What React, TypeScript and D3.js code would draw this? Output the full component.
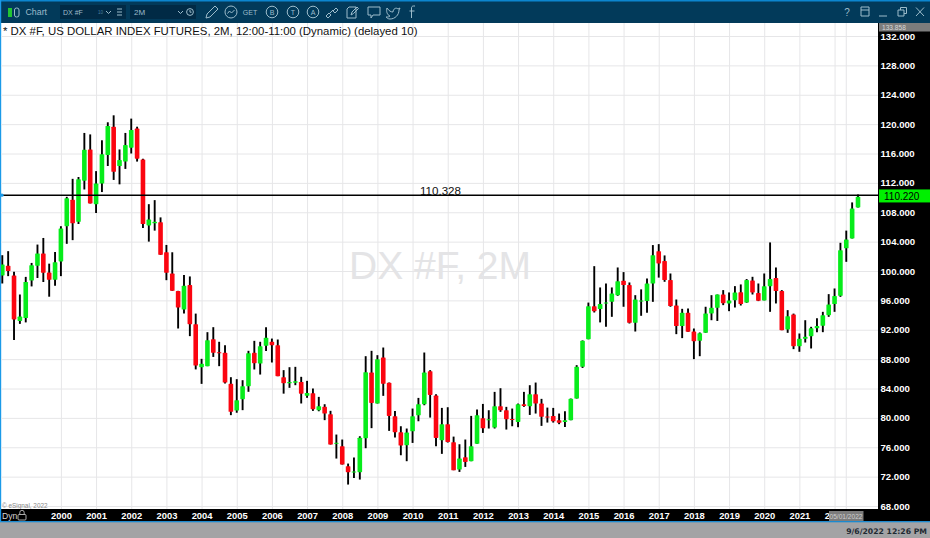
import React, { useEffect, useRef } from 'react';
import * as d3 from 'd3';

// two-month bars, first one sits 10 bars before Jan 2000
const firstBarOffset = 10;

const opens = [
  99.4, 100.7, 99.4, 93.2, 93.6, 98.7, 100.7, 102.4, 99.8, 98.8,
  101.3, 106.1, 109.7, 106.7, 112.3, 116.55, 109.1, 111.9, 115.8, 119.65,
  114.3, 114.9, 116.8, 119.4, 115.2, 106.2, 106.5, 106.65, 102.55, 99.65,
  97.26, 94.76, 98.08, 92.76, 86.9, 87.04, 90.72, 88.95, 88.86, 84.63,
  81, 82.55, 84.32, 88.86, 87.4, 89.81, 90.36, 89.9, 85.54, 84.73,
  84.8, 84.9, 83, 83.36, 81.05, 81.5, 80.5, 76.5, 76.14, 73.42,
  72.6, 72.6, 77.23, 86.17, 81.95, 88.22, 84.77, 80.23, 78.05, 76.28,
  78.18, 80.36, 81.86, 86.36, 83.04, 76.96, 79.14, 76.68, 72.96, 74.64,
  74.1, 76.46, 79.95, 79.7, 78.68, 81.59, 81.04, 79.86, 79.45, 81.86,
  81.59, 83.22, 81.95, 80.18, 80.27, 79.68, 79.45, 79.68, 82.63, 86.95,
  90.72, 95.2, 94.81, 95.6, 95.8, 96.71, 98.67, 98.08, 92.95, 95.9,
  95.9, 98.3, 102.7, 101.35, 98.76, 95.3, 92.5, 94.3, 91.76, 90.5,
  91.58, 94.22, 94.99, 96.8, 95.58, 96.03, 97.12, 95.71, 98.71, 97,
  96, 97.94, 99.03, 97.26, 92.04, 94.08, 89.76, 90.76, 91.13, 92.2,
  92.53, 93.99, 95.49, 96.62, 103.1, 104.43, 108.66,
];

const highs = [
  102.15, 102.7, 99.9, 96.8, 99.2, 101.1, 103.6, 104.5, 101, 102.6,
  106.1, 110.1, 112.55, 112.8, 118.8, 118.6, 113.6, 117.8, 120.25, 121.2,
  116.55, 118.8, 120.75, 119.65, 115.3, 109.1, 109.65, 107.3, 103.55, 102.55,
  97.3, 99.44, 99.26, 94.2, 88.04, 91.67, 92.35, 90.36, 89.9, 85.54,
  85.27, 85.13, 89.13, 90.49, 90.36, 92.35, 90.8, 90.67, 86.5, 86.9,
  86.95, 85.59, 85.04, 84, 82.86, 81.86, 80.96, 77.73, 77.05, 73.78,
  74.6, 77.5, 88.4, 89.13, 88.54, 89.58, 84.81, 80.95, 78.86, 78.55,
  81.27, 82.72, 88.9, 86.5, 83.22, 81.36, 81.45, 77.45, 76.41, 77.05,
  80.27, 81.13, 81.9, 81.04, 83.54, 84.04, 81.5, 81.27, 81.95, 83.54,
  84.45, 84.81, 82.59, 81.4, 81.36, 80.59, 80.9, 82.63, 87.18, 90.55,
  95.7, 100.66, 97.76, 98.3, 97.76, 100.48, 99.85, 98.44, 96.71, 97.5,
  98.98, 103.53, 103.66, 102.12, 99.66, 96.12, 94.85, 94.9, 92.17, 91.63,
  95.13, 96.71, 96.8, 97.4, 97.08, 97.94, 98.17, 98.9, 99.21, 98.3,
  99.66, 103.89, 100.48, 97.4, 94.67, 94.2, 91.49, 93.3, 92.4, 93.58,
  94.44, 96.85, 97.62, 103.84, 105.5, 109.34, 110.43,
];

const lows = [
  98.3, 99.3, 90.6, 92.8, 93, 97.9, 99.05, 98.5, 96.5, 98,
  99.3, 103.7, 104.2, 106.4, 111.1, 109.2, 107.9, 110.75, 114.3, 112.4,
  111.8, 113.9, 116, 114.9, 105.85, 104, 105.5, 102.2, 98.75, 97.3,
  92.17, 94.2, 91.13, 86.6, 84.63, 87.04, 88.3, 87.04, 84.68, 80.37,
  80.7, 81.05, 83.55, 86.59, 85.9, 89.1, 87.54, 85.68, 83.3, 84.09,
  84.45, 81.96, 82.73, 80.95, 80.9, 79.69, 76.37, 74.46, 73.64, 70.92,
  71.8, 71.6, 75.87, 78.6, 81.95, 83, 78.23, 77.32, 74.91, 74.1,
  76.59, 79.54, 81.72, 80.04, 76.14, 75.1, 76.64, 72.87, 72.64, 73.32,
  74.1, 76.46, 77.95, 78.55, 78.55, 80.82, 78.41, 78.86, 78.73, 81.5,
  80.4, 80.59, 78.91, 79.36, 79.36, 79.14, 78.77, 79.68, 82.63, 86.8,
  90.7, 94.35, 93, 92.4, 93.76, 96.62, 95.13, 92.85, 91.76, 93.9,
  94.3, 95.8, 99.1, 98.53, 95.13, 91.4, 90.86, 91.72, 88, 88.4,
  91.58, 93.3, 93.2, 95.35, 94.53, 95.03, 95.3, 95.67, 96.8, 95.9,
  96, 94.44, 95.58, 91.94, 91.58, 89.36, 89, 90.26, 89.45, 91.67,
  91.67, 93.76, 94.44, 96.48, 101.25, 104.43, 108.66,
];

const closes = [
  100.9, 100, 93.4, 93.8, 98.5, 100.8, 102.4, 99.75, 98.8, 101.2,
  105.8, 109.9, 106.5, 112.5, 116.5, 109.2, 111.9, 115.9, 119.75, 113.5,
  115.1, 117.15, 119.2, 115.3, 106.4, 107, 106.7, 102.2, 99.75, 97.3,
  95.03, 97.98, 92.76, 87.13, 87.36, 90.58, 88.86, 88.85, 84.82, 80.82,
  82.4, 84.32, 88.81, 87.45, 89.77, 90.9, 89.9, 85.68, 84.73, 84.87,
  85, 83.3, 83.4, 81.18, 81.6, 80.59, 76.37, 76.6, 73.64, 72.6,
  72.7, 77.3, 86.22, 82.04, 87.99, 84.63, 80.27, 78.05, 76.23, 78,
  80.23, 81.86, 86.17, 83.13, 77.27, 79.14, 76.73, 72.87, 74.46, 74,
  76.14, 80.36, 78.59, 79.8, 81.59, 81.04, 79.82, 79.78, 81.86, 81.63,
  83.22, 81.95, 80.14, 80.04, 79.54, 79.32, 79.68, 82.59, 86.95, 90.49,
  95.2, 94.53, 95.5, 95.7, 96.94, 98.62, 98.08, 92.95, 96.12, 96,
  98.3, 102.16, 101.03, 98.76, 95.22, 92.5, 94.3, 91.72, 90.45, 91.54,
  94.22, 94.99, 96.8, 95.62, 95.99, 97.08, 95.49, 98.76, 97.08, 95.94,
  97.94, 98.9, 97.26, 91.94, 93.85, 89.76, 90.76, 91.03, 92.2, 92.5,
  93.99, 95.44, 96.58, 102.84, 104.29, 108.52, 110.1,
];

const years = d3.range(2000, 2023);
const priceTicks = d3.range(68, 133, 4);
const horizontalLevel = 110.328;
const lastPrice = 110.22;
const topPrice = '133.858';
const cursorBar = 134 + firstBarOffset;

const FONT = '"Liberation Sans", Arial, sans-serif';

export default function App() {
  const ref = useRef<SVGSVGElement>(null);

  useEffect(() => {
    if (!ref.current) return;
    document.body.style.margin = '0';
    const svg = d3.select(ref.current);
    svg.selectAll('*').remove();

    const W = 930, H = 538;
    const chartL = 1, chartR = 878, chartT = 23, chartB = 509;

    const x = d3.scaleLinear().domain([0, opens.length - 1]).range([2.3, 858]);
    const y = d3.scaleLinear().domain([68, 132]).range([506, 36]);
    const yearX = (yr: number) => x((yr - 2000) * 6 + firstBarOffset);

    // backgrounds
    svg.append('rect').attr('width', W).attr('height', H).attr('fill', '#a3a3a5');
    svg.append('rect').attr('width', W).attr('height', 23).attr('fill', '#023a5a');
    svg.append('rect').attr('width', W).attr('height', 1.5).attr('fill', '#0c86cf');
    svg.append('rect').attr('y', chartT).attr('width', W).attr('height', 499).attr('fill', '#000');
    svg.append('rect').attr('x', chartL).attr('y', chartT).attr('width', chartR - chartL).attr('height', chartB - chartT).attr('fill', '#fff');
    svg.append('rect').attr('y', 521).attr('width', W).attr('height', 1.3).attr('fill', '#1b8ad0');
    svg.append('rect').attr('y', 0).attr('width', 1.2).attr('height', 522).attr('fill', '#1b9ae8');

    svg.append('defs').append('clipPath').attr('id', 'plot-clip')
      .append('rect').attr('x', chartL).attr('y', chartT).attr('width', chartR - chartL).attr('height', chartB - chartT);

    const plot = svg.append('g').attr('clip-path', 'url(#plot-clip)');

    // grid
    const hGrid = plot.append('g')
      .attr('transform', `translate(${chartL},0)`)
      .call(d3.axisRight(y).tickValues(priceTicks).tickSize(chartR - chartL).tickFormat(() => ''));
    hGrid.select('.domain').remove();
    hGrid.selectAll('.tick line').attr('stroke', '#e6e6e8').attr('stroke-width', 1);

    const xTickScale = d3.scaleLinear().domain([2000, 2022]).range([yearX(2000), yearX(2022)]);
    const vGrid = plot.append('g')
      .attr('transform', `translate(0,${chartT})`)
      .call(d3.axisBottom(xTickScale).tickValues(years).tickSize(chartB - chartT).tickFormat(() => ''));
    vGrid.select('.domain').remove();
    vGrid.selectAll('.tick line').attr('stroke', '#e6e6e8').attr('stroke-width', 1);

    plot.append('line')
      .attr('x1', x(cursorBar)).attr('x2', x(cursorBar))
      .attr('y1', chartT).attr('y2', chartB)
      .attr('stroke', '#e6e6e8');

    // watermark
    plot.append('text')
      .attr('x', 440).attr('y', 279)
      .attr('text-anchor', 'middle')
      .attr('font-family', FONT).attr('font-size', 39)
      .attr('fill', '#e4e4e6')
      .text('DX #F, 2M');

    // candles
    const bars = plot.append('g').selectAll('g')
      .data(opens.map((open, i) => ({ i, open, high: highs[i], low: lows[i], close: closes[i] })))
      .join('g');

    bars.append('line')
      .attr('x1', d => x(d.i)).attr('x2', d => x(d.i))
      .attr('y1', d => y(d.high)).attr('y2', d => y(d.low))
      .attr('stroke', '#000').attr('stroke-width', 1.9);

    bars.append('rect')
      .attr('x', d => x(d.i) - 2.3)
      .attr('width', 4.6)
      .attr('y', d => y(Math.max(d.open, d.close)))
      .attr('height', d => Math.max(1, Math.abs(y(d.open) - y(d.close))))
      .attr('rx', 0.6)
      .attr('fill', d => d.close >= d.open ? '#07ec1b' : '#fb0510');

    // horizontal line tool
    plot.append('line')
      .attr('x1', chartL).attr('x2', chartR)
      .attr('y1', y(horizontalLevel)).attr('y2', y(horizontalLevel))
      .attr('stroke', '#000').attr('stroke-width', 1.5);
    plot.append('circle').attr('cx', 2).attr('cy', y(horizontalLevel)).attr('r', 1.6).attr('fill', '#1b9ae8');

    plot.append('text')
      .attr('x', 440.5).attr('y', 195)
      .attr('text-anchor', 'middle')
      .attr('font-family', FONT).attr('font-size', 11.6)
      .attr('fill', '#111')
      .text(horizontalLevel.toFixed(3));

    // title
    plot.append('text')
      .attr('x', 3).attr('y', 35)
      .attr('font-family', FONT).attr('font-size', 11.4)
      .attr('fill', '#111')
      .text('* DX #F, US DOLLAR INDEX FUTURES, 2M, 12:00-11:00 (Dynamic) (delayed 10)');

    plot.append('text')
      .attr('x', 2).attr('y', 507.5)
      .attr('font-family', FONT).attr('font-size', 6.4)
      .attr('fill', '#8a8a8a')
      .text('© eSignal, 2022');

    // price axis
    const priceAxis = svg.append('g')
      .attr('transform', `translate(${chartR},0)`)
      .call(d3.axisRight(y).tickValues(priceTicks).tickSize(0).tickPadding(2.5).tickFormat(d3.format('.3f') as any));
    priceAxis.select('.domain').remove();
    priceAxis.selectAll('text')
      .attr('fill', '#fff')
      .attr('font-family', FONT)
      .attr('font-size', 9.6)
      .attr('font-weight', 700);

    svg.append('rect').attr('x', 879).attr('y', 23).attr('width', 51).attr('height', 8.5).attr('fill', '#7c7c7c');
    svg.append('text')
      .attr('x', 882).attr('y', 29.7)
      .attr('font-family', FONT).attr('font-size', 6.6).attr('fill', '#d8d8d8')
      .text(topPrice);

    svg.append('rect').attr('x', 879).attr('y', y(lastPrice) - 6.5).attr('width', 51).attr('height', 13).attr('fill', '#00f000');
    svg.append('text')
      .attr('x', 884).attr('y', y(lastPrice) + 3.6)
      .attr('font-family', FONT).attr('font-size', 10).attr('font-weight', 400).attr('fill', '#000')
      .text(lastPrice.toFixed(3));

    // time axis
    const timeAxis = svg.append('g')
      .attr('transform', 'translate(0,510)')
      .call(d3.axisBottom(xTickScale).tickValues(years).tickSize(0).tickPadding(2).tickFormat(d3.format('d') as any));
    timeAxis.select('.domain').remove();
    timeAxis.selectAll('text')
      .attr('fill', '#fff')
      .attr('font-family', FONT)
      .attr('font-size', 9.4)
      .attr('font-weight', 700);

    svg.append('rect').attr('x', 829).attr('y', 511).attr('width', 34.5).attr('height', 10).attr('fill', '#7c7c7c');
    svg.append('text')
      .attr('x', 846).attr('y', 518.6)
      .attr('text-anchor', 'middle')
      .attr('font-family', FONT).attr('font-size', 6.6).attr('fill', '#cfcfcf')
      .text('05/01/2022');

    svg.append('text')
      .attr('x', 2).attr('y', 519)
      .attr('font-family', FONT).attr('font-size', 8.6).attr('fill', '#d5d5d5')
      .text('Dyn');
    const lock = svg.append('g').attr('fill', 'none').attr('stroke', '#bdbdbd').attr('stroke-width', 0.9);
    lock.append('rect').attr('x', 18).attr('y', 514.5).attr('width', 8).attr('height', 5.5).attr('rx', 1);
    lock.append('path').attr('d', 'M19.8 514.5v-2a2.2 2.2 0 0 1 4.4 0v2');

    // status bar
    svg.append('text')
      .attr('x', 927).attr('y', 533.5)
      .attr('text-anchor', 'end')
      .attr('font-family', '"DejaVu Sans", sans-serif').attr('font-size', 7.7).attr('font-weight', 700)
      .attr('fill', '#1f2a33')
      .text('9/6/2022 12:26 PM');

    // toolbar
    const bar = svg.append('g');
    const ink = '#9dbccb';
    bar.append('rect').attr('x', 60).attr('y', 5).attr('width', 66).attr('height', 14).attr('fill', '#012a45');
    bar.append('rect').attr('x', 130).attr('y', 5).attr('width', 66).attr('height', 14).attr('fill', '#012a45');
    bar.append('rect').attr('x', 8).attr('y', 8).attr('width', 4).attr('height', 9).attr('fill', '#22c433');
    bar.append('rect').attr('x', 14.5).attr('y', 8).attr('width', 4.5).attr('height', 9).attr('rx', 2)
      .attr('fill', 'none').attr('stroke', ink);

    const label = (tx: number, s: string, size: number, col = ink, anchor = 'start', weight = 400) =>
      bar.append('text')
        .attr('x', tx).attr('y', 12 + size * 0.36)
        .attr('text-anchor', anchor)
        .attr('font-family', FONT).attr('font-size', size).attr('font-weight', weight)
        .attr('fill', col).text(s);

    label(25.5, 'Chart', 8.8);
    label(63, 'DX #F', 7);
    label(134, '2M', 8);
    label(98, '10', 4.5, '#4a7fa0');
    label(250, 'GET', 7, ink, 'middle');
    label(847, '?', 10, ink, 'middle');

    const stroke = (d: string) =>
      bar.append('path').attr('d', d).attr('fill', 'none').attr('stroke', ink).attr('stroke-width', 1);

    // chevrons, menu, clock
    stroke('M106 11l2.5 2.5 2.5-2.5');
    stroke('M117 9h5M117 12h5M117 15h5');
    stroke('M178 11l2.5 2.5 2.5-2.5');
    bar.append('circle').attr('cx', 190).attr('cy', 12).attr('r', 3.4).attr('fill', 'none').attr('stroke', ink);
    stroke('M190 10v2.2h1.6');

    // pencil
    stroke('M206 18l1-4 8-8 3 3-8 8z');

    // circled icons
    bar.append('circle').attr('cx', 231).attr('cy', 12).attr('r', 6).attr('fill', 'none').attr('stroke', ink);
    stroke('M227.5 13.5l2-2.5 2 2 3-3');
    [['B', 272], ['T', 293], ['A', 313]].forEach(([s, cx]) => {
      bar.append('circle').attr('cx', cx as number).attr('cy', 12).attr('r', 5.8).attr('fill', 'none').attr('stroke', ink);
      label(cx as number, s as string, 7, ink, 'middle');
    });

    // link, note, speech, bird, f
    stroke('M326 16l3-3 2 2-3 3zM333 11l3-3 2 2-3 3zM330 13l3-3');
    stroke('M349 7h7v11h-9v-9zM351 15l1-3 5-5 1.5 1.5-5 5z');
    stroke('M368 7h12v8h-7l-2 3v-3h-3z');
    stroke('M387 8c2 3 4 4 6 4 0-3 3-5 5-3l2-1-1 2c0 5-4 9-9 9-2 0-3-1-4-2 2 0 3 0 4-1-3-1-4-5-3-8z');
    stroke('M415 6h-1.5c-1.5 0-2 1-2 2v10M409.5 11h5');

    // window buttons
    stroke('M861 7h8v9h-8zM861 10h8');
    stroke('M879 16h8');
    stroke('M898 10h6v6h-6zM900.5 10V7.5h6v6H904');
    stroke('M916 7.5l8 8.5M924 7.5l-8 8.5');
  }, []);

  return <svg ref={ref} width={930} height={538} style={{ display: 'block' }} />;
}
